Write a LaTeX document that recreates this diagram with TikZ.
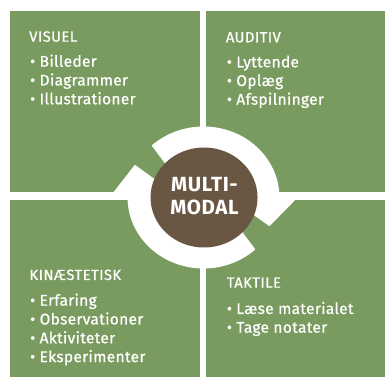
\documentclass[tikz,border=0pt]{standalone}
\usepackage{fontspec}
\setmainfont{Fira Sans}
\newfontfamily\itemfont{Fira Sans}[FakeBold=0.7, LetterSpace=2]
\newfontfamily\headfont{Fira Sans}[FakeBold=0.6, LetterSpace=3]
\newfontfamily\hubfont{Fira Sans}[LetterSpace=3]
\definecolor{quadgreen}{HTML}{7A9B60}
\definecolor{hubbrown}{HTML}{6A5743}
\tikzset{
  quad/.style={fill=quadgreen, draw=none},
  head/.style={anchor=base west, inner sep=0pt, text=white, font=\headfont\fontsize{14.8}{17}\selectfont},
  entry/.style={anchor=base west, inner sep=0pt, text=white, font=\itemfont\fontsize{15.5}{17}\selectfont},
  hubtext/.style={anchor=base, inner sep=0pt, text=white, font=\hubfont\bfseries\fontsize{20.5}{22}\selectfont},
  ringarrow/.style={fill=white, draw=none}
}
\begin{document}
\begin{tikzpicture}[x=1pt,y=1pt]
\useasboundingbox (0,0) rectangle (385,377);
\fill[white] (0,0) rectangle (385,377);
% quadrants
\fill[quad] (10,185) rectangle (200,366);
\fill[quad] (205.7,185) rectangle (385,366);
\fill[quad] (10,0) rectangle (200,177);
\fill[quad] (205.7,0) rectangle (385,177);
% circular arrows
\begin{scope}[shift={(203.5,179.5)}, xscale=1.07]
  \fill[ringarrow] (133:71) arc[start angle=133, end angle=0, radius=71]
    -- (0:88) -- (-25:68) -- (-18:44)
    arc[start angle=-18, end angle=138, radius=44] -- cycle;
  \fill[ringarrow] (313:71) arc[start angle=313, end angle=180, radius=71]
    -- (180:88) -- (153:72) -- (160:44)
    arc[start angle=160, end angle=318, radius=44] -- cycle;
  \fill[hubbrown] (0.5,0) circle[radius=50];
\end{scope}
\node[hubtext] (m1) at (204.5,185.3) {MULTI-};
\node[hubtext] (m2) at (204.5,162.7) {MODAL};
% VISUEL
\node[head] (vh) at (29,335.3) {VISUEL};
\node[entry] (v1) at (30,310.3) {• Billeder};
\node[entry] (v2) at (30,291.5) {• Diagrammer};
\node[entry] (v3) at (30,272.7) {• Illustrationer};
% AUDITIV
\node[head] (ah) at (225.7,334.7) {AUDITIV};
\node[entry] (a1) at (226.7,309.7) {• Lyttende};
\node[entry] (a2) at (226.7,291) {• Oplæg};
\node[entry] (a3) at (226.7,272.3) {• Afspilninger};
% KINAESTETISK
\node[head] (kh) at (29.3,97) {KINÆSTETISK};
\node[entry] (k1) at (30,71.3) {• Erfaring};
\node[entry] (k2) at (30,52.5) {• Observationer};
\node[entry] (k3) at (30,33.7) {• Aktiviteter};
\node[entry] (k4) at (30,14.9) {• Eksperimenter};
% TAKTILE
\node[head] (th) at (226.7,89.3) {TAKTILE};
\node[entry] (t1) at (226.7,63) {• Læse materialet};
\node[entry] (t2) at (226.7,44.3) {• Tage notater};
\end{tikzpicture}
\end{document}
